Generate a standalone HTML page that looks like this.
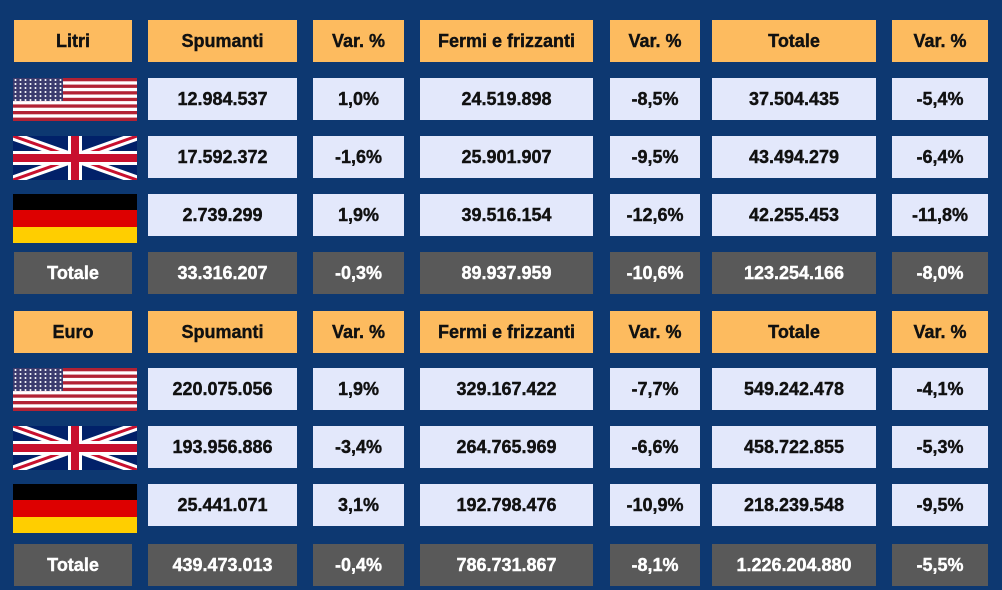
<!DOCTYPE html>
<html><head><meta charset="utf-8"><style>
body{margin:0;width:1002px;height:590px;background:#0d3871;position:relative;overflow:hidden;font-family:"Liberation Sans",sans-serif;font-weight:bold;font-size:18px}
.c{position:absolute;height:42px;line-height:43px;text-align:center;color:#111;-webkit-text-stroke:0.4px currentColor}
.h{background:#fdbb5f}.d{background:#e3e8fb}.t{background:#595959;color:#fff}
.a{left:14px;width:118px}.b{left:148px;width:149px}.e{left:313px;width:91px}.f{left:420px;width:173px}.g{left:610px;width:90px}.i{left:712px;width:164px}.j{left:892px;width:96px}
.r0{top:20px}.r1{top:78px}.r2{top:136px}.r3{top:194px}.r4{top:252px}.r5{top:311px}.r6{top:368px}.r7{top:426px}.r8{top:484px}.r9{top:544px}
svg{position:absolute;left:13px}
</style></head><body>
<svg width="0" height="0" style="position:absolute"><defs>
<pattern id="st" width="5" height="4" patternUnits="userSpaceOnUse"><circle cx="2.5" cy="2" r="1" fill="#fff"/></pattern>
<g id="us"><rect width="124" height="43" fill="#fff"/><g fill="#b22234"><rect y="0" width="124" height="3.3"/><rect y="6.6" width="124" height="3.3"/><rect y="13.2" width="124" height="3.3"/><rect y="19.8" width="124" height="3.3"/><rect y="26.4" width="124" height="3.3"/><rect y="33" width="124" height="3.3"/><rect y="39.6" width="124" height="3.4"/></g><rect width="50" height="23" fill="#3c3b6e"/><rect width="50" height="23" fill="url(#st)"/></g>
<g id="uk"><rect width="124" height="44" fill="#012169"/><path d="M0 0L124 44M124 0L0 44" stroke="#fff" stroke-width="9"/><path d="M0 0L124 44M124 0L0 44" stroke="#c8102e" stroke-width="3"/><path d="M62 0V44M0 22H124" stroke="#fff" stroke-width="14"/><path d="M62 0V44M0 22H124" stroke="#c8102e" stroke-width="8"/></g>
<g id="de"><rect width="124" height="17" fill="#000"/><rect y="16" width="124" height="17" fill="#dd0000"/><rect y="33" width="124" height="16" fill="#ffce00"/></g>
</defs></svg>
<svg style="top:78px" width="124" height="43"><use href="#us"/></svg>
<svg style="top:136px" width="124" height="44"><use href="#uk"/></svg>
<svg style="top:194px" width="124" height="49"><use href="#de"/></svg>
<svg style="top:368px" width="124" height="43"><use href="#us"/></svg>
<svg style="top:426px" width="124" height="44"><use href="#uk"/></svg>
<svg style="top:484px" width="124" height="49"><use href="#de"/></svg>

<div class="c h a r0">Litri</div><div class="c h b r0">Spumanti</div><div class="c h e r0">Var. %</div><div class="c h f r0">Fermi e frizzanti</div><div class="c h g r0">Var. %</div><div class="c h i r0">Totale</div><div class="c h j r0">Var. %</div>
<div class="c d b r1">12.984.537</div><div class="c d e r1">1,0%</div><div class="c d f r1">24.519.898</div><div class="c d g r1">-8,5%</div><div class="c d i r1">37.504.435</div><div class="c d j r1">-5,4%</div>
<div class="c d b r2">17.592.372</div><div class="c d e r2">-1,6%</div><div class="c d f r2">25.901.907</div><div class="c d g r2">-9,5%</div><div class="c d i r2">43.494.279</div><div class="c d j r2">-6,4%</div>
<div class="c d b r3">2.739.299</div><div class="c d e r3">1,9%</div><div class="c d f r3">39.516.154</div><div class="c d g r3">-12,6%</div><div class="c d i r3">42.255.453</div><div class="c d j r3">-11,8%</div>
<div class="c t a r4">Totale</div><div class="c t b r4">33.316.207</div><div class="c t e r4">-0,3%</div><div class="c t f r4">89.937.959</div><div class="c t g r4">-10,6%</div><div class="c t i r4">123.254.166</div><div class="c t j r4">-8,0%</div>
<div class="c h a r5">Euro</div><div class="c h b r5">Spumanti</div><div class="c h e r5">Var. %</div><div class="c h f r5">Fermi e frizzanti</div><div class="c h g r5">Var. %</div><div class="c h i r5">Totale</div><div class="c h j r5">Var. %</div>
<div class="c d b r6">220.075.056</div><div class="c d e r6">1,9%</div><div class="c d f r6">329.167.422</div><div class="c d g r6">-7,7%</div><div class="c d i r6">549.242.478</div><div class="c d j r6">-4,1%</div>
<div class="c d b r7">193.956.886</div><div class="c d e r7">-3,4%</div><div class="c d f r7">264.765.969</div><div class="c d g r7">-6,6%</div><div class="c d i r7">458.722.855</div><div class="c d j r7">-5,3%</div>
<div class="c d b r8">25.441.071</div><div class="c d e r8">3,1%</div><div class="c d f r8">192.798.476</div><div class="c d g r8">-10,9%</div><div class="c d i r8">218.239.548</div><div class="c d j r8">-9,5%</div>
<div class="c t a r9">Totale</div><div class="c t b r9">439.473.013</div><div class="c t e r9">-0,4%</div><div class="c t f r9">786.731.867</div><div class="c t g r9">-8,1%</div><div class="c t i r9">1.226.204.880</div><div class="c t j r9">-5,5%</div>
</body></html>
